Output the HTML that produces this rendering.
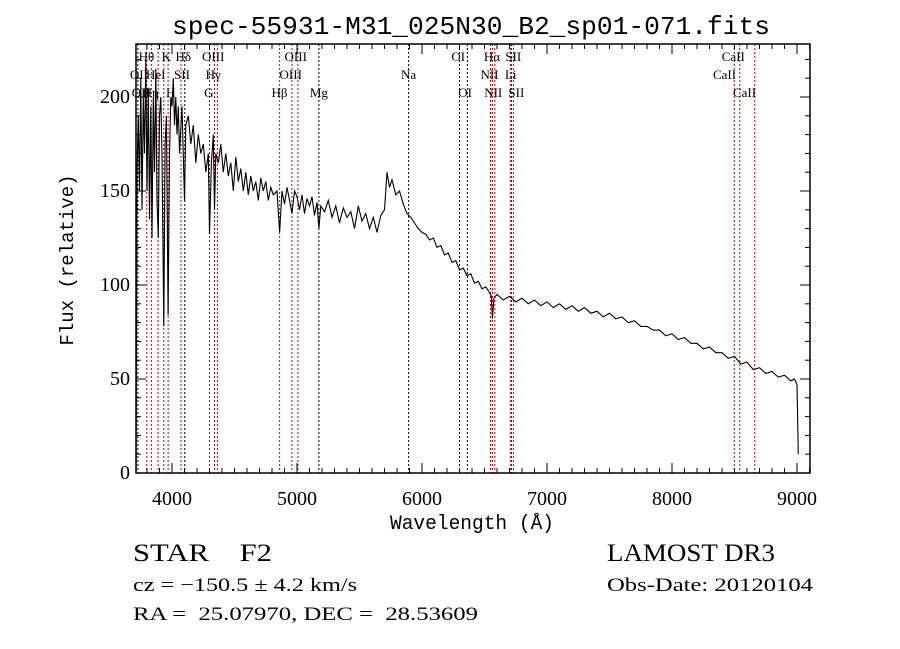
<!DOCTYPE html>
<html><head><meta charset="utf-8">
<style>
html,body{margin:0;padding:0;background:#fff;}
svg{display:block;}
text{font-family:"Liberation Serif",serif;fill:#000;}
</style></head>
<body>
<svg id="chart" width="900" height="649" xmlns="http://www.w3.org/2000/svg">
<rect width="900" height="649" fill="#fff"/>
<text x="172" y="34" textLength="598" lengthAdjust="spacingAndGlyphs" font-size="26" style="font-family:'Liberation Mono',monospace">spec-55931-M31_025N30_B2_sp01-071.fits</text>
<text x="390" y="529" textLength="164" lengthAdjust="spacingAndGlyphs" font-size="20" style="font-family:'Liberation Mono',monospace">Wavelength (Å)</text>
<text transform="translate(73,260) rotate(-90)" text-anchor="middle" font-size="19" style="font-family:'Liberation Mono',monospace">Flux (relative)</text>
<text x="133" y="561" textLength="139" lengthAdjust="spacingAndGlyphs" font-size="25">STAR&#160;&#160;&#160;&#160;F2</text>
<text x="607" y="561" textLength="168" lengthAdjust="spacingAndGlyphs" font-size="25">LAMOST DR3</text>
<text x="133" y="591" textLength="224" lengthAdjust="spacingAndGlyphs" font-size="19">cz = −150.5 ± 4.2 km/s</text>
<text x="607" y="591" textLength="206" lengthAdjust="spacingAndGlyphs" font-size="19">Obs-Date: 20120104</text>
<text x="133" y="620" textLength="345" lengthAdjust="spacingAndGlyphs" font-size="19">RA =&#160;&#160;25.07970, DEC =&#160;&#160;28.53609</text>
<g id="plot"></g>
</svg>
<script>
const waves = [3713,3716,3720,3730,3740,3750,3760,3770,3780,3790,3800,3810,3820,3830,3840,3850,3860,3870,3880,3890,3900,3910,3920,3934,3945,3955,3969,3980,3990,4000,4010,4020,4030,4040,4050,4060,4080,4100,4110,4130,4150,4170,4190,4210,4230,4250,4270,4290,4300,4315,4330,4340,4350,4370,4390,4410,4430,4450,4470,4490,4510,4530,4550,4570,4590,4610,4630,4650,4670,4690,4710,4730,4750,4770,4790,4810,4840,4861,4880,4900,4920,4940,4960,4980,5000,5020,5040,5060,5080,5100,5120,5140,5160,5175,5190,5220,5250,5280,5310,5340,5370,5400,5430,5460,5490,5520,5550,5580,5610,5640,5670,5700,5720,5740,5760,5790,5820,5850,5880,5910,5940,5970,6000,6030,6060,6090,6120,6150,6180,6210,6240,6270,6300,6330,6360,6390,6420,6450,6480,6510,6540,6555,6563,6575,6600,6650,6700,6750,6800,6850,6900,6950,7000,7050,7100,7150,7200,7250,7300,7350,7400,7450,7500,7550,7600,7650,7700,7750,7800,7850,7900,7950,8000,8050,8100,8150,8200,8250,8300,8350,8400,8450,8500,8550,8600,8650,8700,8750,8800,8850,8900,8950,8980,9000,9010];
const flux = [0,75,160,190,150,210,140,200,170,220,150,205,135,195,125,200,160,215,145,125,190,200,170,78,175,190,84,170,200,195,210,185,200,180,195,170,195,145,185,190,175,185,165,180,170,175,160,170,127,165,180,140,170,165,175,160,170,158,165,150,168,155,162,150,160,148,158,150,155,145,157,150,155,145,152,148,150,128,150,143,152,145,138,150,147,140,148,138,146,142,147,137,144,130,142,139,145,136,142,133,141,136,139,130,142,134,138,130,136,128,137,140,160,152,156,148,150,143,138,136,133,130,128,127,124,125,120,121,116,117,112,113,108,109,105,106,101,102,98,99,96,94,82,93,95,92,94,91,93,90,92,89,91,88,90,87,89,86,88,85,86,83,85,82,83,80,81,78,78,76,76,73,74,71,72,69,69,66,67,64,64,61,62,58,59,55,56,53,54,51,52,49,50,47,10];
const lineWaves = [3727,3798,3835,3889,3934,3969,4072,4102,4300,4340,4363,4861,4959,5007,5175,5893,6300,6363,6548,6563,6583,6707,6716,6731,8498,8542,8662];
const lineColors = ["#000","#c00000","#c00000","#c00000","#c00000","#c00000","#c00000","#000","#c00000","#c00000","#c00000","#c00000","#c00000","#c00000","#000","#000","#000","#000","#c00000","#c00000","#c00000","#c00000","#c00000","#c00000","#c00000","#c00000","#c00000"];
const labelTexts = ["Hθ","K","Hδ","OIII","OIII","OI","Hα","SII","CaII","OII","HeI","SII","Hγ","OIII","Na","NII","Li","CaII","OII","Hη","H","G","Hβ","Mg","OI","NII","SII","CaII"];
const labelWaves = [3795,3955,4090,4330,4990,6290,6560,6730,8490,3735,3870,4080,4330,4950,5893,6540,6710,8420,3750,3830,3990,4295,4860,5175,6345,6570,6755,8580];
const labelRows = [0,0,0,0,0,0,0,0,0,1,1,1,1,1,1,1,1,1,2,2,2,2,2,2,2,2,2,2];
const xTicks = [4000,5000,6000,7000,8000,9000];
const yTicks = [0,50,100,150,200];

const X0=136,X1=810,Y0=44,Y1=473;
const WMIN=3712,WMAX=9104,FMIN=0,FMAX=228.2;
function xs(w){return X0+(w-WMIN)/(WMAX-WMIN)*(X1-X0);}
function ys(f){return Y1-(f-FMIN)/(FMAX-FMIN)*(Y1-Y0);}
const NS="http://www.w3.org/2000/svg";
const g=document.getElementById('plot');
function mk(tag,attrs){const e=document.createElementNS(NS,tag);for(const k in attrs)e.setAttribute(k,attrs[k]);g.appendChild(e);return e;}

lineWaves.forEach((w,i)=>{
  const l=mk('line',{x1:xs(w),x2:xs(w),y1:Y0,y2:Y1,stroke:lineColors[i],'stroke-width':1,'stroke-dasharray':'2,2'});
  
  
});
labelTexts.forEach((t,i)=>{
  const e=mk('text',{x:xs(labelWaves[i]),y:61+labelRows[i]*18,'text-anchor':'middle','font-size':13});
  e.textContent=t;
  
  
});
let d='';
waves.forEach((w,i)=>{d+=(i?'L':'M')+xs(w).toFixed(1)+','+ys(flux[i]).toFixed(1);});
const p=mk('path',{d:d,fill:'none',stroke:'#000','stroke-width':1.1});



const fr=mk('rect',{x:X0,y:Y0,width:X1-X0,height:Y1-Y0,fill:'none',stroke:'#000','stroke-width':1.5});


for(let w=3800;w<=9100;w+=100){
  const major=w%1000===0;const L=major?10:5;
  mk('line',{x1:xs(w),x2:xs(w),y1:Y1,y2:Y1-L,stroke:'#000'});
  mk('line',{x1:xs(w),x2:xs(w),y1:Y0,y2:Y0+L,stroke:'#000'});
}
for(let f=10;f<=220;f+=10){
  const major=f%50===0;const L=major?10:5;
  mk('line',{x1:X0,x2:X0+L,y1:ys(f),y2:ys(f),stroke:'#000'});
  mk('line',{x1:X1,x2:X1-L,y1:ys(f),y2:ys(f),stroke:'#000'});
}
xTicks.forEach(v=>{
  const t=mk('text',{x:xs(v),y:505,'text-anchor':'middle','font-size':20});
  t.textContent=v;
  
  
});
yTicks.forEach(v=>{
  const t=mk('text',{x:130,y:ys(v)+6,'text-anchor':'end','font-size':20});
  t.textContent=v;
  
  
});
</script>
</body></html>
